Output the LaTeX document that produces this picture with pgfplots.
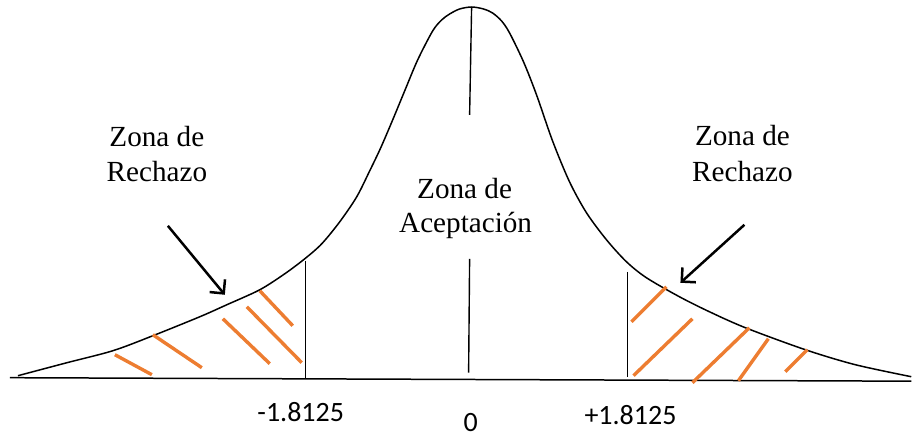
\documentclass[border=0pt]{standalone}
\usepackage{fontspec}
\setmainfont{Liberation Serif}
\newfontfamily\carlito{Carlito}
\usepackage{pgfplots}
\pgfplotsset{compat=1.18}
\usetikzlibrary{arrows.meta}

\definecolor{office}{HTML}{ED7D31}

\begin{document}
\begin{tikzpicture}
\begin{axis}[
    scale only axis,
    width=456pt, height=217pt,
    xmin=0, xmax=912,
    ymin=0, ymax=434,
    y dir=reverse,
    hide axis,
    clip=false,
    hatch/.style={color=office, line width=1.7pt, line cap=butt},
    vline/.style={black, line width=0.7pt},
]
% frame of the picture (invisible)
\addplot[draw=none] coordinates {(0,0) (912,434)};

% bell curve (pixel coordinates)
\addplot[black, line width=0.75pt, smooth, tension=0.5] coordinates {
    (18,376) (67,363) (113,351) (153,336) (200,317) (227,305) (260,290)
    (285,274) (305,259) (322,244) (340,222) (357,197) (370,171)
    (381,148) (393,120) (405,91) (418,60) (433,31) (442,20) (450,14)
    (460,9) (472,7) (484,9) (493,13) (502,21) (510,33) (524,62) (537,95)
    (553,141) (570,182) (587,213) (607,240) (627,262) (647,278) (680,297)
    (710,312) (746,328) (806,350) (856,365) (912,377)
};

% base line
\addplot[black, line width=0.75pt] coordinates {(10,378) (912,381.5)};

% critical values and centre
\addplot[vline] coordinates {(306,261) (306,378)};
\addplot[vline] coordinates {(628,272) (628,377)};
\addplot[vline] coordinates {(472,7) (470,115)};
\addplot[vline] coordinates {(470,259) (469,373)};

% hatching, left tail
\addplot[hatch] coordinates {(115,355) (152,375)};
\addplot[hatch] coordinates {(153,335) (202,368)};
\addplot[hatch] coordinates {(223,319) (270,364)};
\addplot[hatch] coordinates {(247,307) (302,363)};
\addplot[hatch] coordinates {(260,291) (293,326)};

% hatching, right tail
\addplot[hatch] coordinates {(632,322) (667,287)};
\addplot[hatch] coordinates {(634,376) (693,319)};
\addplot[hatch] coordinates {(693,383) (750,328)};
\addplot[hatch] coordinates {(739,381) (769,339)};
\addplot[hatch] coordinates {(786,372) (808,350)};

% arrows
\addplot[black, line width=1.25pt, -{Straight Barb[length=5pt, width=10pt]}]
    coordinates {(168,226) (225,295)};
\addplot[black, line width=1.25pt, -{Straight Barb[length=5pt, width=10pt]}]
    coordinates {(745,225) (681,283)};

% labels
\node[anchor=base, font=\fontsize{14.6}{17}\selectfont] at (axis cs:157,146.5) {Zona de};
\node[anchor=base, font=\fontsize{14.6}{17}\selectfont] at (axis cs:157,181.5) {Rechazo};
\node[anchor=base, font=\fontsize{14.6}{17}\selectfont] at (axis cs:743,146) {Zona de};
\node[anchor=base, font=\fontsize{14.6}{17}\selectfont] at (axis cs:743,181.5) {Rechazo};
\node[anchor=base, font=\fontsize{14.6}{17}\selectfont] at (axis cs:465,198.5) {Zona de};
\node[anchor=base, font=\fontsize{14.6}{17}\selectfont] at (axis cs:466,232.5) {Aceptación};

\node[anchor=base, font=\carlito\fontsize{14}{17}\selectfont] at (axis cs:301,421.5) {-1.8125};
\node[anchor=base, font=\carlito\fontsize{14}{17}\selectfont] at (axis cs:471,431.5) {0};
\node[anchor=base, font=\carlito\fontsize{14}{17}\selectfont] at (axis cs:631,425) {+1.8125};
\end{axis}
\end{tikzpicture}
\end{document}
